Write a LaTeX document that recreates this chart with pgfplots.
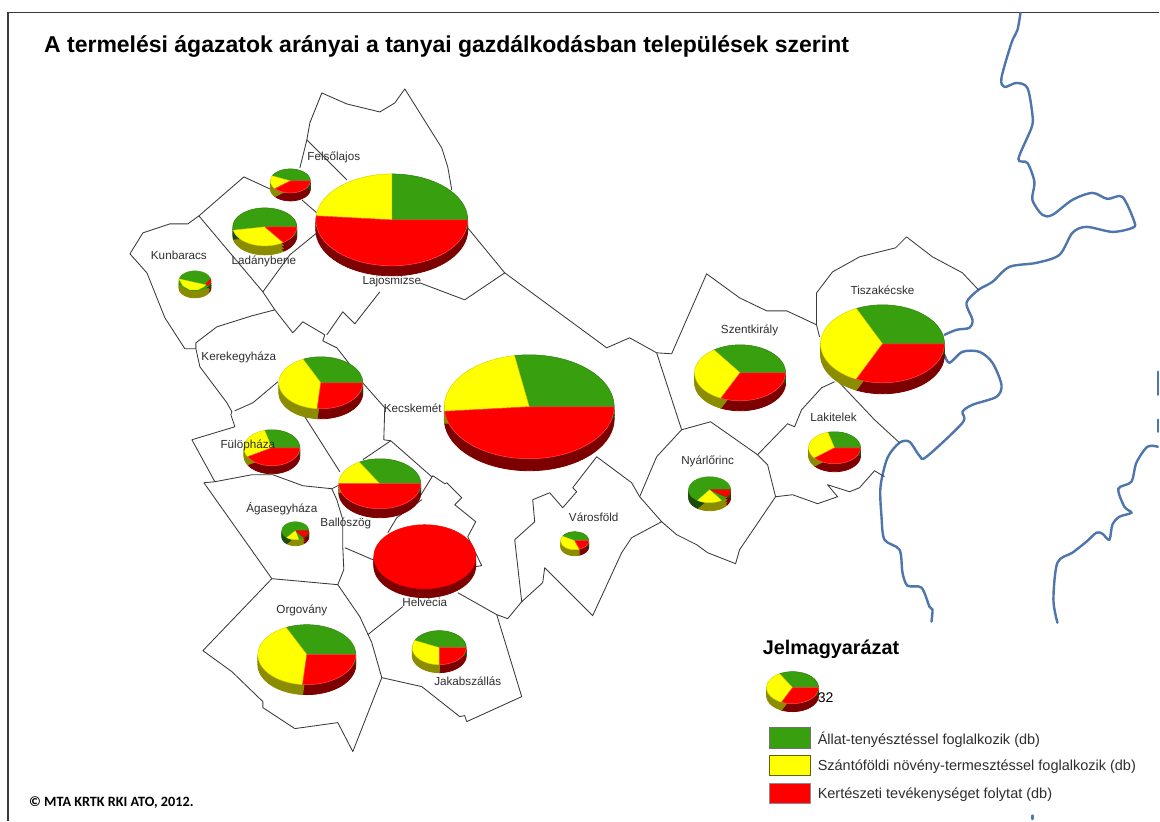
\documentclass[border=0pt]{standalone}
\usepackage{fontspec}
\setmainfont{Liberation Sans}
\newfontfamily\calib{Carlito}
\usepackage{pgfplots}
\usepackage{pgfplotstable}
\pgfplotsset{compat=1.18}

\definecolor{pgreen}{HTML}{38A00F}
\definecolor{pyellow}{HTML}{FFFF00}
\definecolor{pred}{HTML}{FF0000}
\definecolor{dgreen}{HTML}{1C4A08}
\definecolor{dyellow}{HTML}{8C8C00}
\definecolor{dred}{HTML}{7C0000}
\definecolor{border}{HTML}{3A3A3A}
\definecolor{river}{HTML}{4E75AC}
\definecolor{lbl}{HTML}{2E2E2E}

% unit circle, 5 degree steps; first row is the pie centre
\pgfplotstableread{
c s
0 0
1 0
.9962 .0872
.9848 .1736
.9659 .2588
.9397 .3420
.9063 .4226
.8660 .5
.8192 .5736
.7660 .6428
.7071 .7071
.6428 .7660
.5736 .8192
.5 .8660
.4226 .9063
.3420 .9397
.2588 .9659
.1736 .9848
.0872 .9962
0 1
-.0872 .9962
-.1736 .9848
-.2588 .9659
-.3420 .9397
-.4226 .9063
-.5 .8660
-.5736 .8192
-.6428 .7660
-.7071 .7071
-.7660 .6428
-.8192 .5736
-.8660 .5
-.9063 .4226
-.9397 .3420
-.9659 .2588
-.9848 .1736
-.9962 .0872
-1 0
-.9962 -.0872
-.9848 -.1736
-.9659 -.2588
-.9397 -.3420
-.9063 -.4226
-.8660 -.5
-.8192 -.5736
-.7660 -.6428
-.7071 -.7071
-.6428 -.7660
-.5736 -.8192
-.5 -.8660
-.4226 -.9063
-.3420 -.9397
-.2588 -.9659
-.1736 -.9848
-.0872 -.9962
0 -1
.0872 -.9962
.1736 -.9848
.2588 -.9659
.3420 -.9397
.4226 -.9063
.5 -.8660
.5736 -.8192
.6428 -.7660
.7071 -.7071
.7660 -.6428
.8192 -.5736
.8660 -.5
.9063 -.4226
.9397 -.3420
.9659 -.2588
.9848 -.1736
.9962 -.0872
1 0
}\unitc

% cx cy rx ry from to style
\newcommand{\Wedge}[7]{%
  \pgfmathtruncatemacro\ia{#5/5+1}%
  \pgfmathtruncatemacro\ib{#6/5+2}%
  \addplot[#7, skip coords between index={1}{\ia}, skip coords between index={\ib}{74}]
    table[x expr={#1+#3*\thisrow{c}}, y expr={#2+#4*\thisrow{s}}] {\unitc} -- cycle;
}
% cx cy rx ry depth from to colour
\newcommand{\Side}[8]{%
  \pgfmathsetmacro\ya{#2+#5}\pgfmathsetmacro\yb{#2+0.67*#5}\pgfmathsetmacro\yc{#2+0.33*#5}%
  \Wedge{#1}{\ya}{#3}{#4}{#6}{#7}{fill=#8, draw=#8, line width=0.8pt}
  \Wedge{#1}{\yb}{#3}{#4}{#6}{#7}{fill=#8, draw=#8, line width=0.8pt}
  \Wedge{#1}{\yc}{#3}{#4}{#6}{#7}{fill=#8, draw=#8, line width=0.8pt}
}
% cx cy rx ry depth a b : red 0-a, yellow a-b, green b-360
\newcommand{\Pie}[7]{%
  \Side{#1}{#2}{#3}{#4}{#5}{0}{#6}{dred}
  \Side{#1}{#2}{#3}{#4}{#5}{#6}{#7}{dyellow}
  \Side{#1}{#2}{#3}{#4}{#5}{#7}{360}{dgreen}
  \Wedge{#1}{#2}{#3}{#4}{#7}{360}{fill=pgreen, draw=pgreen!80!black, line width=0.5pt}
  \Wedge{#1}{#2}{#3}{#4}{#6}{#7}{fill=pyellow, draw=pyellow!85!black, line width=0.5pt}
  \Wedge{#1}{#2}{#3}{#4}{0}{#6}{fill=pred, draw=red!70!white, line width=0.5pt}
}

\pgfplotsset{
  bd/.style={draw=border, line width=0.85pt, line join=round},
  riv/.style={draw=river, line width=2.4pt, smooth, tension=0.5, line cap=round},
}
\tikzset{
  lab/.style={font=\fontsize{11.7}{13}\selectfont, text=lbl, inner sep=0pt},
  leg/.style={font=\fontsize{14.5}{17}\selectfont, text=lbl, inner sep=0pt, anchor=west},
}

\begin{document}
\begin{tikzpicture}
\begin{axis}[
  scale only axis, width=1160pt, height=821pt,
  xmin=0, xmax=1160, ymin=0, ymax=821,
  y dir=reverse, hide axis, clip=false,
]
% white page, keeps the full extent in the picture
\addplot[fill=white, draw=none] coordinates {(0,0) (1160,0) (1160,821) (0,821)} -- cycle;
% frame
\addplot[draw=border, line width=1.3pt] coordinates {(1160,12.5) (8,12.5) (8,821)};

% rivers
\addplot[riv] coordinates {(1021,13) (1018,30) (1012,43) (1002,78) (1005,87) (1017,83) (1028,88) (1033,115) (1032,128) (1019,159) (1028,163) (1035,182) (1033,200) (1043,215) (1053,215) (1073,200) (1093,193) (1108,199) (1123,197) (1135,222) (1133,228) (1113,232) (1087,227) (1073,233) (1060,255) (1037,263) (1010,267) (993,282) (979,290) (967,303) (973,320) (970,328) (957,330) (945,335)};
\addplot[riv] coordinates {(945,355) (950,363) (963,352) (980,352) (993,363) (1002,385) (997,397) (973,405) (963,412) (963,423) (927,457) (920,456) (910,442) (900,443) (888,458) (881,487) (882,517) (885,540) (900,550) (903,573) (908,586) (922,588) (930,607) (933,610) (932,622)};
\addplot[riv] coordinates {(1058,623) (1054,600) (1058,563) (1073,553) (1087,542) (1097,533) (1103,534) (1110,540) (1113,525) (1120,517) (1132,513) (1125,507) (1119,489) (1132,482) (1137,463) (1148,447) (1158.5,447)};
\addplot[riv] coordinates {(1158.5,372) (1158.5,395)};
\addplot[riv] coordinates {(1158.5,420) (1158.5,432)};
\addplot[riv] coordinates {(1033,816) (1033,819.5)};

% settlement boundaries
\addplot[bd] coordinates {(300,168) (307,140) (310,123) (322,93) (347,104) (380,112) (395,103) (405,89) (442,148) (448,167) (452,190)};
\addplot[bd] coordinates {(307,140) (347,180)};
\addplot[bd] coordinates {(199,216) (244,177) (270,189)};
\addplot[bd] coordinates {(302,200) (317,213)};
\addplot[bd] coordinates {(199,216) (188,224) (170,224) (143,233) (130,254) (147,273) (165,318) (185,349) (196,349)};
\addplot[bd] coordinates {(199,216) (263,292) (275,310) (252,316) (217,327) (196,343) (196,349) (200,367) (227,403) (232,412) (231,415) (235,427) (192,440) (215,482)};
\addplot[bd] coordinates {(275,310) (293,333) (303,322) (325,335) (323,341) (337,348) (348,362) (362,382) (385,408) (384,440) (391,441) (432,477)};
\addplot[bd] coordinates {(263,292) (290,255) (317,233)};
\addplot[bd] coordinates {(468,228) (505,273) (465,300) (420,283)};
\addplot[bd] coordinates {(505,273) (607,348) (630,338) (657,353) (672,354) (707,274) (740,298) (767,311) (787,311) (800,317) (817,325)};
\addplot[bd] coordinates {(380,292) (355,324) (343,312) (327,335)};
\addplot[bd] coordinates {(278,382) (253,403) (235,411)};
\addplot[bd] coordinates {(305,417) (340,472)};
\addplot[bd] coordinates {(363,460) (391,441)};
\addplot[bd] coordinates {(204,483) (215,482) (252,475) (273,475) (303,486) (332,489) (340,485)};
\addplot[bd] coordinates {(204,483) (272,579) (338,585) (344,570) (343,548) (343,520) (337,500) (332,489)};
\addplot[bd] coordinates {(345,548) (373,560)};
\addplot[bd] coordinates {(420,497) (433,476) (445,484) (447,483) (462,498) (455,505) (476,522) (468,537) (482,566) (475,567)};
\addplot[bd] coordinates {(422,500) (397,518) (388,533)};
\addplot[bd] coordinates {(272,579) (203,651) (232,672) (263,702) (263,708) (295,729) (338,723) (353,752) (382,678) (372,643) (360,617) (338,585)};
\addplot[bd] coordinates {(368,635) (403,607)};
\addplot[bd] coordinates {(382,678) (422,687) (460,717) (465,716) (467,722) (522,697) (497,615) (458,593)};
\addplot[bd] coordinates {(497,615) (508,619) (522,602) (515,540) (535,522) (533,500) (550,493) (563,508) (577,492) (573,488) (597,457) (632,483) (640,497) (662,522) (632,538) (622,553) (593,616) (545,568) (543,583) (522,602)};
\addplot[bd] coordinates {(640,497) (657,457) (682,430) (711,422) (758,455) (768,465) (776,497) (740,550) (736,564) (708,553) (697,545) (677,535) (662,522)};
\addplot[bd] coordinates {(657,353) (682,430)};
\addplot[bd] coordinates {(758,455) (788,424) (795,427) (802,410) (822,388) (835,382)};
\addplot[bd] coordinates {(776,497) (793,495) (807,500) (818,504) (838,497) (828,485) (850,492) (860,488) (875,471) (885,477)};
\addplot[bd] coordinates {(820,337) (817,325) (817,293) (833,272) (860,257) (896,248) (907,237) (933,257) (963,273) (979,290)};
\addplot[bd] coordinates {(840,383) (875,420) (900,443)};

% pies: cx cy rx ry depth red/yellow yellow/green
\Pie{392}{220}{76}{46}{10}{185}{270}
\Pie{529.5}{407}{85}{52}{12}{175}{260}
\Pie{883}{344}{62}{39}{11}{115}{245}
\Pie{740.5}{373}{45.5}{28}{10}{115}{235}
\Pie{307}{655}{49}{30}{10}{95}{245}
\Pie{439.5}{648}{27}{17}{8}{90}{205}
\Pie{380}{484}{41}{25}{9}{180}{240}
\Pie{321}{383}{42}{26}{10}{95}{245}
\Pie{272}{448}{28}{18}{8}{150}{255}
\Pie{835}{448}{26}{16}{8}{140}{255}
\Pie{575}{541}{14}{9}{6}{70}{210}
\Pie{265}{227}{32}{19}{9}{55}{170}
\Pie{290.5}{181}{20}{12}{8}{140}{205}
\Pie{793}{688}{26}{16}{8}{115}{240}
% Helvecia, all red
\Side{425}{557}{51}{32}{9}{0}{360}{dred}
\Wedge{425}{557}{51}{32}{0}{360}{fill=pred, draw=pred, line width=0.5pt}
% Nyarlorinc
\Side{710}{490}{21}{13}{8}{0}{35}{dred}
\Side{710}{490}{21}{13}{8}{35}{125}{dyellow}
\Side{710}{490}{21}{13}{8}{125}{360}{dgreen}
\Wedge{710}{490}{21}{13}{0}{360}{fill=pgreen, draw=pgreen, line width=0.5pt}
\Wedge{710}{490}{21}{13}{0}{35}{fill=pred, draw=red!80!black, line width=0.3pt}
\Wedge{710}{490}{21}{13}{55}{125}{fill=pyellow, draw=pyellow!85!black, line width=0.3pt}
% Agasegyhaza
\Side{295.5}{531}{13.5}{9}{6}{0}{50}{dred}
\Side{295.5}{531}{13.5}{9}{6}{50}{130}{dyellow}
\Side{295.5}{531}{13.5}{9}{6}{130}{360}{dgreen}
\Wedge{295.5}{531}{13.5}{9}{0}{360}{fill=pgreen, draw=pgreen, line width=0.3pt}
\Wedge{295.5}{531}{13.5}{9}{0}{50}{fill=pred, draw=red!80!black, line width=0.3pt}
\Wedge{295.5}{531}{13.5}{9}{75}{130}{fill=pyellow, draw=pyellow!85!black, line width=0.3pt}
% Kunbaracs
\Side{195}{281}{16}{10}{7}{0}{25}{dred}
\Side{195}{281}{16}{10}{7}{25}{200}{dyellow}
\Side{195}{281}{16}{10}{7}{200}{360}{dgreen}
\Wedge{195}{281}{16}{10}{0}{360}{fill=pgreen, draw=pgreen, line width=0.3pt}
\addplot[fill=pred, draw=pred] coordinates {(206,284) (211,279) (211,282) (208,286)} -- cycle;
\addplot[fill=pyellow, draw=pyellow!85!black, line width=0.3pt] coordinates {(179,279) (206,285) (204,287) (198,290) (190,290) (183,286)} -- cycle;

% legend swatches
\addplot[fill=pgreen, draw=black!55, line width=0.8pt] coordinates {(770,728) (811,728) (811,749) (770,749)} -- cycle;
\addplot[fill=pyellow, draw=dyellow!70!black, line width=0.8pt] coordinates {(770,756) (811,756) (811,776) (770,776)} -- cycle;
\addplot[fill=pred, draw=black!45, line width=0.8pt] coordinates {(770,784) (811,784) (811,804) (770,804)} -- cycle;

% text
\node[anchor=base west, inner sep=0pt, font=\bfseries\fontsize{23}{26}\selectfont] at (axis cs:44,53) {A termelési ágazatok arányai a tanyai gazdálkodásban települések szerint};
\node[lab] at (axis cs:334,157) {Felsőlajos};
\node[lab] at (axis cs:179,255) {Kunbaracs};
\node[lab] at (axis cs:264,262) {Ladánybene};
\node[lab] at (axis cs:392,282) {Lajosmizse};
\node[lab] at (axis cs:239,358) {Kerekegyháza};
\node[lab] at (axis cs:413,408) {Kecskemét};
\node[lab] at (axis cs:248,446) {Fülöpháza};
\node[lab] at (axis cs:282,509) {Ágasegyháza};
\node[lab] at (axis cs:346,524) {Ballószög};
\node[lab] at (axis cs:425,603) {Helvécia};
\node[lab] at (axis cs:302,611) {Orgovány};
\node[lab] at (axis cs:468,682) {Jakabszállás};
\node[lab] at (axis cs:594,518) {Városföld};
\node[lab] at (axis cs:750,331) {Szentkirály};
\node[lab] at (axis cs:708,462) {Nyárlőrinc};
\node[lab] at (axis cs:883,290) {Tiszakécske};
\node[lab] at (axis cs:834,418) {Lakitelek};
\node[anchor=west, inner sep=0pt, font=\bfseries\fontsize{19.8}{23}\selectfont] at (axis cs:763,650) {Jelmagyarázat};
\node[anchor=west, inner sep=0pt, font=\fontsize{14}{16}\selectfont] at (axis cs:818,698) {32};
\node[leg] at (axis cs:818,740) {Állat-tenyésztéssel foglalkozik (db)};
\node[leg] at (axis cs:818,767) {Szántóföldi növény-termesztéssel foglalkozik (db)};
\node[leg] at (axis cs:818,795) {Kertészeti tevékenységet folytat (db)};
\node[anchor=base west, inner sep=0pt, font=\calib\bfseries\fontsize{14.2}{16}\selectfont] at (axis cs:29,807) {© MTA KRTK RKI ATO, 2012.};
\end{axis}
\end{tikzpicture}
\end{document}
